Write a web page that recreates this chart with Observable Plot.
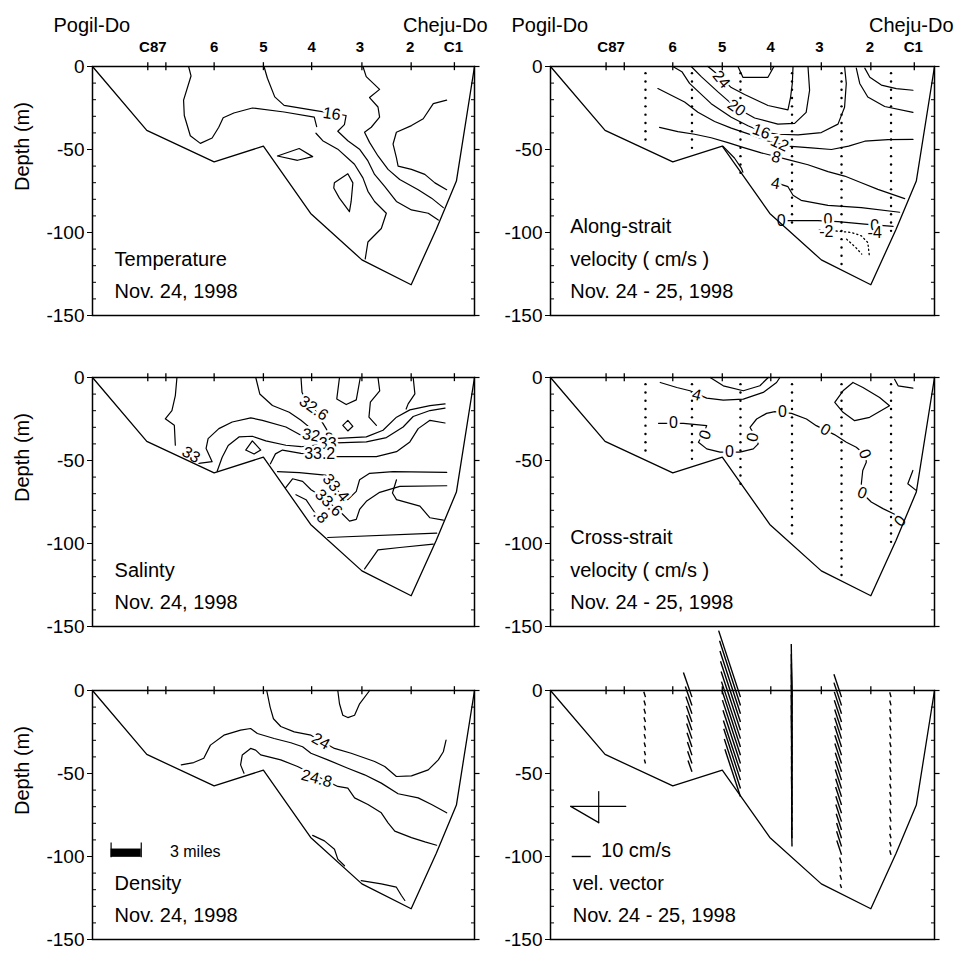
<!DOCTYPE html>
<html>
<head>
<meta charset="utf-8">
<script src="https://cdn.jsdelivr.net/npm/d3@7"></script>
<script src="https://cdn.jsdelivr.net/npm/@observablehq/plot@0.6"></script>
<style>
  body { margin: 0; background: #fff; }
  #fig { position: relative; width: 958px; height: 953px; overflow: hidden; background: #fff; }
  #fig svg { position: absolute; overflow: visible; }
</style>
</head>
<body>
<div id="fig"></div>
<script>
// Distance along the section in miles from Pogil-Do, depth in metres.
const stationTicks = [5.5, 7.3, 12.1, 17.0, 21.8, 26.8, 31.7, 36.0];
const stationLabels = ["C87", "6", "5", "4", "3", "2", "C1"];
const stationLabelX = [6.0, 12.1, 17.0, 21.8, 26.6, 31.6, 35.9];
const depthTicks = [0, -50, -100, -150];
const depthMinor = [-10, -20, -30, -40, -60, -70, -80, -90, -110, -120, -130, -140];

// Bottom topography along the section
const bottomX = [0, 5.4, 12.1, 17.0, 21.7, 26.8, 31.7, 34.2, 36.2, 38];
const bottomZ = [0, -38.5, -57.5, -48, -88.5, -116.5, -131.5, -98, -69, 0];

// Temperature isotherms (x, depth)
const tempLines = [
  [[9.56,0],[9.8,-5.7],[9.06,-20.3],[9.13,-29.5],[9.73,-41.7],[10.73,-46.3],[11.9,-43.1],[12.56,-36.6],[13.0,-30.9],[14.06,-28],[15.9,-25],[19.06,-27.4],[22.06,-30.5],[22.3,-36.2]],
  [[22.23,-40.2],[22.9,-44.7],[24.4,-49.8],[26.06,-58.9],[26.9,-67.1],[27.4,-75.2],[28.06,-81.3],[29.23,-88.4],[28.73,-97.6],[27.4,-105.7],[27.13,-115.9]],
  [[17.06,0],[17.4,-7.1],[18.13,-18.3],[19.06,-23.4],[22.06,-26.4],[25.23,-29.5],[25.06,-35],[24.4,-39],[25.4,-44.7],[26.56,-49.8],[27.4,-56.9],[28.06,-65],[29.06,-72.2],[30.23,-81.3],[31.73,-86.4],[33.4,-88.4],[34.4,-92.5]],
  [[26.9,0],[27.23,-6.1],[28.56,-13.8],[27.56,-18.7],[28.4,-24.4],[28.56,-30.5],[27.73,-36.6],[27.06,-39.6],[27.56,-45.7],[28.4,-53.9],[29.4,-62],[30.56,-68.1],[32.4,-74.2],[33.73,-79.3],[34.9,-85]],
  [[35.23,-20.3],[33.9,-22.4],[32.9,-31.5],[31.73,-35.6],[30.23,-39.6],[29.9,-46.7],[30.23,-54.9],[30.4,-60],[31.73,-62],[33.06,-65],[34.06,-70.1],[35.23,-74.2]],
  [[18.4,-53.9],[20.56,-49.4],[21.9,-54.3],[20.4,-56.5],[18.4,-53.9]],
  [[24.06,-70.1],[25.4,-64.6],[25.9,-70.1],[25.73,-81.3],[25.56,-87.4],[24.56,-79.3],[24,-73.2],[24.06,-70.1]]
];
const tempLabels = [{x: 23.8, z: -28.6, t: "16", r: 8}];

// Salinity isohalines
const saltLines = [
  [[8.4,0],[8.24,-10.9],[7.9,-19.9],[7.24,-24.9],[8.14,-28.8],[8.24,-40.8]],
  [[10.57,-51.7],[11.9,-50.7],[11.3,-42.7],[11.5,-36.8],[12.57,-30.8],[13.9,-26.8],[15.74,-24.3],[16.9,-25.8],[19.24,-29.8],[20.74,-34.8],[21.57,-36.8],[23.9,-36.8],[27.24,-35.8],[28.9,-31.8],[30.24,-23.9],[31.57,-19.5],[33.57,-16.9],[35.07,-15.9]],
  [[12.4,-56.5],[12.9,-48],[13.5,-41],[14.57,-35.8],[15.9,-35.4],[17.24,-38.2],[19.24,-40.8],[20.74,-41.7],[24.24,-39.4],[27.24,-38.8],[29.24,-36.2],[30.9,-29.8],[31.9,-23.5],[33.57,-19.9],[35.07,-18.5]],
  [[17.7,-52],[18.2,-46],[18.9,-43.7],[20.74,-45.7],[24.24,-47.7],[28.24,-47.7],[30.24,-44.7],[31.57,-38.8],[32.4,-30.8],[33.57,-25.8],[35.07,-27.4]],
  [[18.4,-56.7],[20.57,-57.3],[23.4,-59],[23.74,-62.6],[24.6,-70],[25.4,-73.6],[26.24,-68.6],[26.57,-61.6],[27.57,-57.7],[29.9,-56.7],[35.24,-57.1]],
  [[19.2,-66.5],[19.9,-61],[20.9,-62.6],[21.74,-67.6],[23.0,-72.5],[24.74,-81.5],[25.57,-86.5],[26.24,-85.5],[26.57,-79.5],[27.24,-74.6],[28.57,-69.2],[30.57,-65.6],[35.24,-65.2]],
  [[20.24,-70.6],[21.24,-73.6],[21.9,-79.5],[22.3,-83]],
  [[30.24,-61.6],[29.84,-69.6],[30.24,-73.6],[32.57,-77.5],[33.57,-84.5],[34.9,-85.9]],
  [[23.4,-96.4],[34.24,-93.8]],
  [[27.07,-115.3],[28.4,-103.8],[30.57,-102.4],[33.9,-100.4]],
  [[16.24,0],[16.64,-9.9],[17.9,-16.9],[19.57,-20.9],[20.74,-25.8],[21.74,-30.8],[22.24,-34.8]],
  [[20.74,0],[20.84,-8.9],[21.07,-11.9],[21.9,-17],[22.74,-25.8],[23.24,-30.8],[23.57,-35]],
  [[24.57,0],[24.3,-12.9],[25.24,-16.3],[26.24,-13.5],[26.64,0]],
  [[24.9,-28.8],[25.4,-25.8],[25.9,-29.4],[25.4,-32.2],[24.9,-28.8]],
  [[15.24,-43.7],[15.9,-38.2],[16.74,-43.7],[16.07,-46.1],[15.24,-43.7]],
  [[28.4,0],[28.57,-8],[27.64,-14.9],[27.5,-23.9],[28.24,-28.8]],
  [[31.9,0],[32.07,-9.9],[31.4,-15.9],[31.2,-19]]
];
const saltLabels = [
  {x: 22.0, z: -18.5, t: "32.6", r: 35},
  {x: 22.4, z: -35.5, t: "32.8", r: 10},
  {x: 23.4, z: -40.2, t: "33", r: 0},
  {x: 22.6, z: -46.3, t: "33.2", r: 0},
  {x: 24.2, z: -66.5, t: "33.4", r: 50},
  {x: 23.5, z: -75.5, t: "33.6", r: 45},
  {x: 22.7, z: -83.5, t: ".8", r: 45},
  {x: 9.8, z: -46.5, t: "33", r: 30}
];

// Density (sigma-t) contours
const densLines = [
  [[17.33,0],[17.67,-10],[18,-17],[18.73,-21.7],[20.07,-24.9],[21.73,-26.9],[24.07,-34.9],[25.73,-37.8],[28.07,-42.8],[29.07,-45.8],[30.23,-51.8],[31.73,-51.4],[33.4,-47.8],[34.4,-41.8],[34.9,-36.9],[35.17,-29.9]],
  [[8.83,-44.8],[10.07,-43.4],[11.07,-40.8],[11.73,-32.9],[13.07,-26.9],[14.73,-23.9],[15.73,-22.9],[16.4,-25.9],[18.07,-28.9],[19.73,-31.5],[20.9,-33.9],[21.73,-37.8],[23.4,-41.8],[25.4,-46.8],[27.07,-50.8],[28.73,-55.8],[30.4,-62.2],[32.4,-64.7],[33.73,-68.7],[35.23,-73.7]],
  [[15.07,-49.8],[14.73,-44.8],[14.9,-38.8],[15.73,-34.9],[16.23,-35.9],[16.73,-38.8],[18.73,-41.8],[20.4,-45.8],[24.4,-57.8],[25.4,-58.8],[26.07,-64.7],[27.4,-68.7],[28.73,-73.7],[29.4,-79.7],[30.07,-84.7],[31.73,-88.6],[33.07,-91.2],[34.23,-93.2]],
  [[24.4,0],[24.57,-8],[24.9,-14.9],[25.4,-16.3],[26.07,-14.9],[26.57,-8],[27.57,0]],
  [[21.9,-87.3],[23.07,-90.6],[24.07,-95.6],[24.4,-101.6],[25.07,-105.6]],
  [[26.73,-114.5],[28.73,-116.5],[30.23,-118.5],[30.73,-123.5],[31.07,-126.5]]
];
const densLabels = [
  {x: 22.7, z: -30.6, t: "24", r: 30},
  {x: 22.3, z: -53.0, t: "24.8", r: 15}
];

// ADCP profile columns (shared by the three velocity sections)
const colX = [9.4, 14.0, 18.8, 23.9, 28.8, 33.7];
const binTop = -4, binStep = 5;

// Along-strait velocity contours (cm/s)
const alongLines = [
  [[18.55,0],[19.04,-6.5],[21.52,-6.5],[22.11,0]],
  [[15.58,0],[16.4,-4.1],[17.89,-12.7],[19.21,-16.9],[21.52,-23.5],[23.5,-26.1],[23.76,-18.4],[23.93,-10.2],[24,0]],
  [[13.93,0],[14.92,-6.1],[16.57,-15.3],[18.38,-24.9],[20.2,-31],[22.5,-34.7],[24.16,-34.3],[25.3,-27.6],[25.64,-14.3],[25.48,0]],
  [[12.11,0],[13,-3.1],[13.76,-10.2],[15.9,-22.4],[17.89,-30.6],[19.54,-35.7],[20.86,-39.2],[22.5,-40.8],[24.5,-41.2],[26.8,-39.8],[28.45,-34.7],[29.1,-24.5],[29.27,-10.2],[29.1,0]],
  [[10.63,-13.3],[11.95,-17.3],[13.27,-21.4],[14.59,-27.6],[16.24,-33.1],[17.89,-37.1],[19.87,-41.2],[21.52,-44.9],[23.5,-48],[25.8,-49],[27.8,-50],[29.5,-48],[31.1,-45],[33.4,-44],[35.87,-43.9]],
  [[10.79,-36.7],[12.6,-39.2],[14.26,-40.8],[15.9,-42.9],[17.56,-45.9],[19.2,-49],[20.86,-52],[23.5,-56.1],[25.48,-59.2],[27.46,-63.3],[29.1,-66],[30.76,-70],[32.4,-74],[35.05,-79.6]],
  [[17.06,-48],[18.2,-55.1],[18.88,-61.2],[19.04,-63.7]],
  [[22.5,-70.4],[23.5,-72.4],[24,-77.6],[24.8,-80.6],[27.46,-83.7],[30.76,-85],[34.55,-87.8]],
  [[22.67,-92.9],[26.47,-92.9],[28.45,-93.5],[31.1,-94.9],[33.9,-96.3]],
  [[31.1,-1],[31.6,-6.5],[32.74,-11.2],[34.22,-13.3],[35.87,-14.3]],
  [[30.26,-1],[30.6,-10.2],[31.4,-18.4],[33.07,-24.1],[35.87,-27.6]]
];
const alongNegLines = [
  [[26.6,-98.5],[28.1,-99],[29.8,-100],[30.76,-102],[31.4,-106],[31.56,-114.3]],
  [[29.3,-104],[30.2,-109],[30.8,-113]]
];
const alongLabels = [
  {x: 16.9, z: -7.8, t: "24", r: 50},
  {x: 18.4, z: -24.9, t: "20", r: 35},
  {x: 20.86, z: -39.2, t: "16", r: 20},
  {x: 22.67, z: -46.5, t: "12", r: 25},
  {x: 22.34, z: -54.7, t: "8", r: 15},
  {x: 22.28, z: -70.4, t: "4", r: 10},
  {x: 22.84, z: -92.9, t: "0", r: 0},
  {x: 27.46, z: -92.4, t: "0", r: 0},
  {x: 27.3, z: -99.6, t: "-2", r: 0},
  {x: 32.08, z: -96.3, t: "0", r: 0},
  {x: 32.08, z: -100, t: "-4", r: 0}
];

// Cross-strait velocity contours (cm/s)
const crossLines = [
  [[10.86,-3],[12.5,-6],[13.8,-8],[15.46,-12.4],[17.1,-13.6],[19.08,-13],[21.05,-9],[22.37,-3],[22.7,0]],
  [[15.8,0],[17.1,-5],[19.08,-8],[20.72,-5],[21.55,0]],
  [[10.69,-27.6],[13.16,-27.6],[15.46,-29],[15.2,-33],[14.64,-39],[15.46,-43],[16.78,-45],[18.75,-45],[20.07,-43],[20.56,-40],[20.2,-35],[19.74,-30],[20.4,-25],[21.38,-21.6],[22.2,-20.6],[23.85,-21.6],[25.33,-25],[26.3,-29],[28.1,-34.4],[29.28,-39],[30.26,-42],[31.2,-47],[31.25,-51],[30.9,-56],[30.76,-64],[30.9,-70],[31.74,-75],[32.9,-79],[34.05,-82.4],[34.54,-86]],
  [[29.93,-3],[28.95,-8],[28.13,-15],[28.95,-21],[30.1,-26],[31.58,-24],[33.55,-17],[32.57,-12],[30.92,-6],[29.93,-3]],
  [[34.05,-1],[34.4,-5],[35.86,-6.4]],
  [[35.86,-56],[35.36,-64],[36.18,-68]]
];
const crossLabels = [
  {x: 14.47, z: -10.5, t: "4", r: 15},
  {x: 12.17, z: -27.6, t: "0", r: 0},
  {x: 15.3, z: -34.5, t: "0", r: -70},
  {x: 17.7, z: -45, t: "0", r: 0},
  {x: 20.0, z: -36, t: "0", r: -80},
  {x: 22.96, z: -20.8, t: "0", r: 0},
  {x: 27.2, z: -31.5, t: "0", r: 30},
  {x: 31.1, z: -46, t: "0", r: 70},
  {x: 30.85, z: -69.5, t: "0", r: 20},
  {x: 34.6, z: -86.5, t: "0", r: -50}
];

// Velocity vectors per ADCP column: east (u) and north (v) components, cm/s
const vecU = [
  [-0.9,-0.8,-0.8,-0.8,-0.7,-0.7,-0.7,-0.6,-0.6],
  [-4.5,-3.5,-3.2,-3,-2.8,-2.8,-2.6,-2.4,-2.3,-2.1],
  [-11.5,-11,-10.8,-10.5,-10.2,-10,-9.8,-9.5,-9.2,-9,-8.8,-8.5,-8.2],
  [-0.4,-0.4,-0.4,-0.4,-0.4,-0.4,-0.4,-0.4,-0.3,-0.3,-0.3,-0.3,-0.3,-0.3,-0.2,-0.2,-0.2,-0.2,-0.2],
  [-4,-4,-3.8,-3.8,-3.6,-3.6,-3.6,-3.5,-3.5,-3.3,-3.3,-3.3,-3.1,-3.1,-3,-3,-2.8,-2.6,-2.6,-2.5,-1,-0.8,-0.8,-0.7],
  [-0.7,-0.7,-0.7,-0.7,-0.7,-0.7,-0.7,-0.7,-0.7,-0.7,-0.7,-0.7,-0.7,-0.7,-0.7,-0.7,-0.7,-0.7,-0.7,-0.7]
];
const vecV = [
  [2.8,2.6,2.6,2.5,2.4,2.4,2.3,2.2,2.1],
  [13,10,9,8.5,8,8,7.5,7,6.5,6],
  [35,34,33,32,31,30,30,29,28,27,27,26,25],
  [28,27,26,25,24,23,22,21,20,19,18,17,16,15,14,13,12,11,10],
  [12,12,11.5,11.5,11,11,11,10.5,10.5,10,10,10,9.5,9.5,9,9,8.5,8,8,7.5,3,2.5,2.5,2],
  [2.6,2.6,2.5,2.5,2.5,2.5,2.5,2.5,2.5,2.5,2.5,2.5,2.5,2.5,2.5,2.5,2.4,2.4,2.4,2.4]
];
const vecScaleSpeed = 10;      // cm/s
const compassArms = [[[2.0,-69.8],[7.45,-69.8]], [[4.77,-60.9],[4.77,-79.6]], [[2.0,-69.8],[4.77,-79.6]]];
const scaleBarMiles = 3;

// ---------------------------------------------------------------------------
const FONT = "'Liberation Sans', Arial, Helvetica, sans-serif";
const COLS = [{left: 0, ml: 92, mr: 5}, {left: 479, ml: 71, mr: 24}];
const ROWS = [0, 311, 624];
const MT = 66, FH = 249, MB = 14, PW = 479;
const textRowsZ = [-96.5, -116.5, -135.8];
const fig = document.getElementById("fig");

const flatten = (lines) => lines.flatMap((pts, id) => pts.map(([x, z]) => ({x, z, id})));
const bottom = bottomX.map((x, i) => ({x, z: bottomZ[i]}));
const binsFor = (ci) => vecV[ci].map((_, k) => binTop - binStep * k);
const dotRows = colX.flatMap((x, ci) => binsFor(ci).map(z => ({x, z})));

function contourMarks(lines, labels) {
  return [
    Plot.line(flatten(lines), {x: "x", y: "z", z: "id", stroke: "black", strokeWidth: 1.2}),
    Plot.text(labels, {x: "x", y: "z", text: "t", rotate: "r", fontSize: 16, fill: "black",
      stroke: "white", strokeWidth: 5, fontFamily: FONT})
  ];
}

function panelText(lines, x0) {
  const zs = textRowsZ.slice(3 - lines.length);
  return Plot.text(lines, {x: () => x0, y: (d, i) => zs[i], text: d => d, textAnchor: "start",
    fontSize: 20, fontFamily: FONT, fill: "black"});
}

function makePanel(ci, ri, marks, {stations = false, depthLabel = false} = {}) {
  const c = COLS[ci];
  const axisMarks = [
    Plot.link(depthMinor, {x1: () => 0, x2: () => 0.35, y1: d => d, y2: d => d, stroke: "black", strokeWidth: 1}),
    Plot.link(depthMinor, {x1: () => 37.65, x2: () => 38, y1: d => d, y2: d => d, stroke: "black", strokeWidth: 1}),
    Plot.link(depthTicks, {x1: () => 38, x2: () => 38.5, y1: d => d, y2: d => d, stroke: "black", strokeWidth: 1.2}),
    Plot.link(stationTicks, {x1: d => d, x2: d => d, y1: () => -2.2, y2: () => 2.6, stroke: "black", strokeWidth: 1.3}),
    Plot.line(bottom, {x: "x", y: "z", stroke: "black", strokeWidth: 1.3}),
    Plot.frame({stroke: "black", strokeWidth: 1.5})
  ];
  if (stations) {
    axisMarks.push(
      Plot.text(stationLabels, {x: (d, i) => stationLabelX[i], y: () => 0, dy: -19, text: d => d,
        fontSize: 15, fontWeight: "bold", fontFamily: FONT, fill: "black"}),
      Plot.text(["Pogil-Do"], {frameAnchor: "top-left", dx: -39, dy: -49, textAnchor: "start",
        fontSize: 20, fontFamily: FONT, fill: "black"}),
      Plot.text(["Cheju-Do"], {frameAnchor: "top-right", dx: ci === 0 ? 13 : 19, dy: -49, textAnchor: "end",
        fontSize: 20, fontFamily: FONT, fill: "black"})
    );
  }
  if (depthLabel) {
    axisMarks.push(Plot.text(["Depth (m)"], {frameAnchor: "left", dx: -70, rotate: -90,
      fontSize: 20, fontFamily: FONT, fill: "black"}));
  }
  const svg = Plot.plot({
    width: PW, height: MT + FH + MB,
    marginTop: MT, marginBottom: MB, marginLeft: c.ml, marginRight: c.mr,
    x: {domain: [0, 38], axis: null},
    y: {domain: [-150, 0], ticks: depthTicks, tickSize: 5, tickPadding: 3,
        tickFormat: d => String(d), label: null},
    style: {fontFamily: FONT, fontSize: "19px", color: "black", background: "transparent", overflow: "visible"},
    marks: [...marks, ...axisMarks]
  });
  svg.style.left = c.left + "px";
  svg.style.top = ROWS[ri] + "px";
  fig.appendChild(svg);
}

// Pixel size of one cm/s in data units on a right-hand panel
const frameW = PW - COLS[1].ml - COLS[1].mr;
const pxPerCm = 1.9;
const kx = pxPerCm / (frameW / 38), kz = pxPerCm / (FH / 150);

// Temperature
makePanel(0, 0, [
  ...contourMarks(tempLines, tempLabels),
  panelText(["Temperature", "Nov. 24, 1998"], 2.2)
], {stations: true, depthLabel: true});

// Along-strait velocity
makePanel(1, 0, [
  Plot.dot(dotRows, {x: "x", y: "z", r: 1.2, fill: "black"}),
  Plot.line(flatten(alongNegLines), {x: "x", y: "z", z: "id", stroke: "black", strokeWidth: 1.3, strokeDasharray: "1.2,3"}),
  ...contourMarks(alongLines, alongLabels),
  panelText(["Along-strait", "velocity ( cm/s )", "Nov. 24 - 25, 1998"], 1.95)
], {stations: true});

// Salinity
makePanel(0, 1, [
  ...contourMarks(saltLines, saltLabels),
  panelText(["Salinty", "Nov. 24, 1998"], 2.2)
], {depthLabel: true});

// Cross-strait velocity
makePanel(1, 1, [
  Plot.dot(dotRows, {x: "x", y: "z", r: 1.2, fill: "black"}),
  ...contourMarks(crossLines, crossLabels),
  panelText(["Cross-strait", "velocity ( cm/s )", "Nov. 24 - 25, 1998"], 1.95)
]);

// Density
makePanel(0, 2, [
  ...contourMarks(densLines, densLabels),
  Plot.rect([scaleBarMiles], {x1: () => 1.85, x2: d => 1.85 + d, y1: () => -100.5, y2: () => -95.5, fill: "black"}),
  Plot.link([0, scaleBarMiles], {x1: d => 1.85 + d, x2: d => 1.85 + d, y1: () => -100.5, y2: () => -91.5, stroke: "black", strokeWidth: 1.2}),
  Plot.text(["3 miles"], {x: () => 7.7, y: () => -97.5, text: d => d, textAnchor: "start", fontSize: 16, fontFamily: FONT}),
  panelText(["Density", "Nov. 24, 1998"], 2.2)
], {depthLabel: true});

// Velocity vectors
const vecRows = colX.flatMap((x, ci) => vecV[ci].map((v, k) => ({x, z: binTop - binStep * k, u: vecU[ci][k], v})));
makePanel(1, 2, [
  Plot.link(vecRows, {x1: "x", y1: "z", x2: d => d.x + d.u * kx, y2: d => d.z + d.v * kz, stroke: "black", strokeWidth: 1.4}),
  Plot.line(flatten(compassArms), {x: "x", y: "z", z: "id", stroke: "black", strokeWidth: 1.2}),
  Plot.link([vecScaleSpeed], {x1: () => 2.1, x2: d => 2.1 + d * kx, y1: () => -100, y2: () => -100, stroke: "black", strokeWidth: 1.4}),
  Plot.text(["10 cm/s"], {x: () => 5.0, y: () => -96.5, text: d => d, textAnchor: "start", fontSize: 20, fontFamily: FONT}),
  panelText(["vel. vector", "Nov. 24 - 25, 1998"], 2.2)
]);
</script>
</body>
</html>
